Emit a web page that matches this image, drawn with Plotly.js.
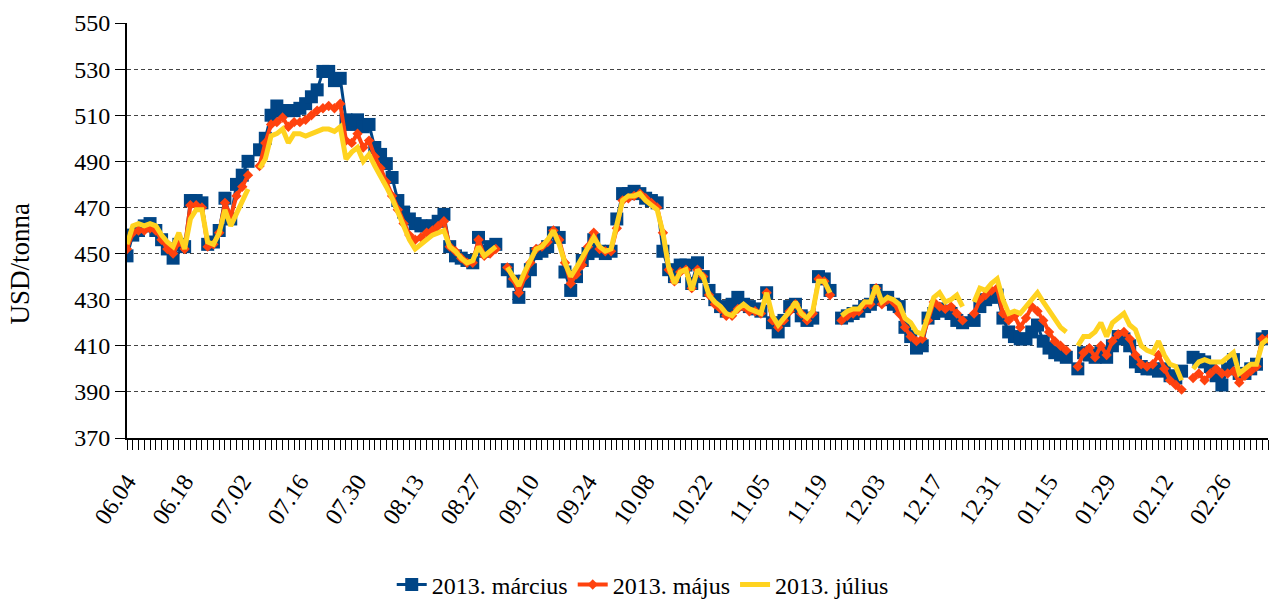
<!DOCTYPE html>
<html>
<head>
<meta charset="utf-8">
<script src="https://cdn.plot.ly/plotly-3.0.1.min.js"></script>
<style>html,body{margin:0;padding:0;background:#fff;}#chart{width:1270px;height:599px;}</style>
</head>
<body>
<div id="chart"></div>
<script>
// Trading days (MM.DD), 2012-06-04 .. 2013-03-08
const dates = [
'06.04','06.05','06.06','06.07','06.08','06.11','06.12','06.13','06.14','06.15',
'06.18','06.19','06.20','06.21','06.22','06.25','06.26','06.27','06.28','06.29',
'07.02','07.03','07.04','07.05','07.06','07.09','07.10','07.11','07.12','07.13',
'07.16','07.17','07.18','07.19','07.20','07.23','07.24','07.25','07.26','07.27',
'07.30','07.31','08.01','08.02','08.03','08.06','08.07','08.08','08.09','08.10',
'08.13','08.14','08.15','08.16','08.17','08.20','08.21','08.22','08.23','08.24',
'08.27','08.28','08.29','08.30','08.31','09.03','09.04','09.05','09.06','09.07',
'09.10','09.11','09.12','09.13','09.14','09.17','09.18','09.19','09.20','09.21',
'09.24','09.25','09.26','09.27','09.28','10.01','10.02','10.03','10.04','10.05',
'10.08','10.09','10.10','10.11','10.12','10.15','10.16','10.17','10.18','10.19',
'10.22','10.23','10.24','10.25','10.26','10.29','10.30','10.31','11.01','11.02',
'11.05','11.06','11.07','11.08','11.09','11.12','11.13','11.14','11.15','11.16',
'11.19','11.20','11.21','11.22','11.23','11.26','11.27','11.28','11.29','11.30',
'12.03','12.04','12.05','12.06','12.07','12.10','12.11','12.12','12.13','12.14',
'12.17','12.18','12.19','12.20','12.21','12.24','12.25','12.26','12.27','12.28',
'12.31','01.02','01.03','01.04','01.07','01.08','01.09','01.10','01.11','01.14',
'01.15','01.16','01.17','01.18','01.21','01.22','01.23','01.24','01.25','01.28',
'01.29','01.30','01.31','02.01','02.04','02.05','02.06','02.07','02.08','02.11',
'02.12','02.13','02.14','02.15','02.18','02.19','02.20','02.21','02.22','02.25',
'02.26','02.27','02.28','03.01','03.04','03.05','03.06','03.07','03.08'
];

const tickLabels = ['06.04','06.18','07.02','07.16','07.30','08.13','08.27','09.10','09.24','10.08',
  '10.22','11.05','11.19','12.03','12.17','12.31','01.15','01.29','02.12','02.26'];

const marcius = [
449,458,460,462,463,460,456,452,448,454,
453,473,473,472,454,455,460,474,465,480,
484,490,null,495,500,510,514,512,512,512,
513,515,518,521,529,529,525,526,508,506,
508,505,506,496,493,489,483,473,468,465,
463,462,462,462,464,467,453,449,448,447,
446,457,451,453,454,null,443,438,431,438,
443,450,451,453,459,457,442,434,440,447,
450,456,451,450,451,465,476,476,477,476,
474,473,472,451,443,440,445,445,437,446,
440,434,430,427,425,428,431,428,427,426,
425,433,420,416,421,427,428,423,421,422,
440,439,434,null,422,423,424,425,427,428,
434,430,431,428,427,418,414,409,410,422,
424,426,425,424,421,420,null,421,427,430,
431,432,422,416,414,413,413,416,419,412,
409,407,406,405,null,400,407,406,405,407,
405,410,414,413,410,403,401,400,400,399,
400,397,396,399,null,405,404,403,401,397,
393,400,404,398,398,400,402,413,414
];

const majus = [
452,459,460,460,461,460,456,452,450,455,
452,471,471,470,453,454,459,472,466,475,
479,484,null,488,498,506,507,509,505,507,
507,508,510,512,513,514,513,515,499,498,
502,496,499,492,487,481,475,469,463,458,
456,457,459,460,462,464,453,451,448,446,
446,456,449,450,452,null,444,439,433,440,
446,452,453,455,460,456,446,437,441,445,
453,459,452,451,451,461,473,474,475,476,
474,472,470,459,443,438,442,443,435,443,
440,432,428,426,423,423,426,427,425,425,
424,433,421,418,421,425,428,424,421,424,
439,438,432,null,421,423,424,425,428,428,
435,428,430,429,424,418,414,412,413,421,
429,427,426,427,424,421,null,424,430,432,
434,435,424,421,423,418,422,427,425,421,
416,412,410,408,null,401,407,409,405,410,
406,412,415,416,413,406,402,401,402,406,
400,395,393,391,null,396,398,395,398,400,
398,398,399,394,397,399,401,413,413
];

const julius = [
454,462,463,462,463,462,458,455,453,459,
452,465,469,469,455,454,459,469,462,467,
472,478,null,487,491,501,502,504,498,502,
502,501,502,503,504,504,503,505,491,494,
496,490,493,488,484,479,474,468,462,456,
452,454,456,458,459,460,453,451,448,446,
447,453,449,451,453,null,444,440,436,442,
447,452,453,456,460,454,446,440,444,448,
453,457,453,451,452,462,473,475,475,476,
473,471,469,459,444,437,442,443,434,443,
440,432,429,427,424,423,426,428,426,425,
424,433,423,419,422,425,429,424,422,425,
438,438,433,null,423,425,426,426,429,429,
436,429,431,430,428,422,420,416,415,424,
431,433,429,430,432,427,null,429,435,434,
437,439,430,424,425,424,427,430,433,429,
425,421,418,416,null,410,414,414,416,420,
414,420,422,424,419,417,410,408,407,412,
406,402,401,395,null,400,403,404,403,403,
403,405,407,398,400,402,402,411,413
];

const seriesNames = ['2013. március','2013. május','2013. július'];
const yTitle = 'USD/tonna';
const FONT = "'Liberation Serif', 'Times New Roman', serif";

const traces = [
  {x: dates, y: marcius, name: seriesNames[0], type: 'scatter', mode: 'lines+markers',
   line: {color: '#004586', width: 3}, marker: {symbol: 'square', size: 13, color: '#004586'}},
  {x: dates, y: majus, name: seriesNames[1], type: 'scatter', mode: 'lines+markers',
   line: {color: '#ff420e', width: 4}, marker: {symbol: 'diamond', size: 8, color: '#ff420e'}},
  {x: dates, y: julius, name: seriesNames[2], type: 'scatter', mode: 'lines',
   line: {color: '#ffd320', width: 5}}
];

const ticktext = dates.map(d => tickLabels.includes(d) ? d : '');

const layout = {
  width: 1270, height: 599,
  margin: {l: 127, r: 2, t: 23, b: 161, autoexpand: false},
  paper_bgcolor: '#fff', plot_bgcolor: '#fff',
  font: {family: FONT, size: 24, color: '#000'},
  showlegend: true,
  legend: {orientation: 'h', x: 0.452, xanchor: 'center', y: -0.354, yanchor: 'middle',
           font: {family: FONT, size: 24, color: '#000'}, itemwidth: 30, tracegroupgap: 0},
  xaxis: {
    type: 'category', range: [0, dates.length - 1], automargin: false,
    tickmode: 'array', tickvals: dates, ticktext: ticktext,
    tickangle: -56, ticks: 'outside', ticklen: 10, tickwidth: 1, tickcolor: '#000',
    ticklabelstandoff: 8,
    showline: true, linecolor: '#000', linewidth: 2, showgrid: false, zeroline: false,
    tickfont: {family: FONT, size: 24, color: '#000'}
  },
  yaxis: {
    range: [370, 550], tickmode: 'linear', tick0: 370, dtick: 20, automargin: false,
    ticks: 'outside', ticklen: 10, tickcolor: '#000',
    showline: true, linecolor: '#000', linewidth: 2,
    showgrid: true, gridcolor: '#444', griddash: '4px,3px', gridwidth: 1, zeroline: false,
    tickfont: {family: FONT, size: 24, color: '#000'}
  },
  annotations: [{
    text: yTitle, textangle: -90, showarrow: false,
    xref: 'paper', yref: 'paper', x: -0.094, y: 0.42, xanchor: 'center', yanchor: 'middle',
    font: {family: FONT, size: 27, color: '#000'}
  }]
};

Plotly.newPlot('chart', traces, layout, {displayModeBar: false, staticPlot: true});
</script>
</body>
</html>
